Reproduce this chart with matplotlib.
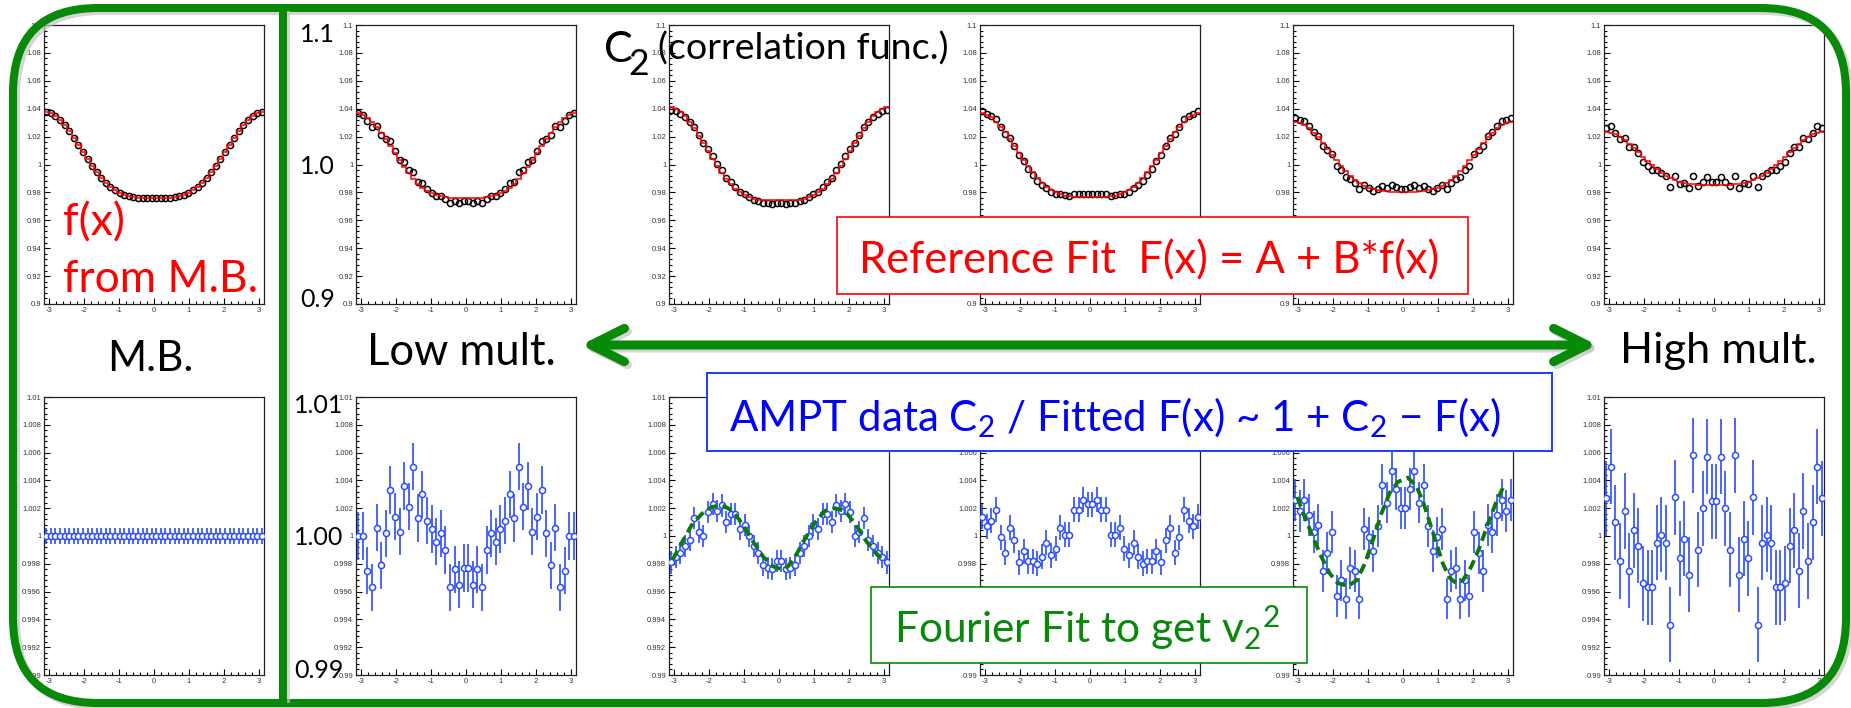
import numpy as np
import matplotlib
matplotlib.use('Agg')
import matplotlib.pyplot as plt
from matplotlib.patches import FancyBboxPatch, Rectangle, FancyArrowPatch
from matplotlib.ticker import MultipleLocator, FormatStrFormatter

plt.rcParams['font.family'] = ['Liberation Sans', 'DejaVu Sans']
plt.rcParams['mathtext.fontset'] = 'custom'
plt.rcParams['mathtext.rm'] = 'Lato'
plt.rcParams['mathtext.it'] = 'Lato'
plt.rcParams['mathtext.default'] = 'regular'
BIG = ['Lato', 'DejaVu Sans']

# ---------------- data (48 delta-phi bins) ----------------
# top row: C2 correlation functions (black points) and reference fits F(x) (red steps)
mb_c2 = [1.0379, 1.0368, 1.0348, 1.0319, 1.0282, 1.0239, 1.0191, 1.0140, 1.0088, 1.0037, 0.9988, 0.9943,
         0.9902, 0.9867, 0.9838, 0.9814, 0.9796, 0.9782, 0.9773, 0.9767, 0.9763, 0.9761, 0.9760, 0.9760,
         0.9760, 0.9760, 0.9761, 0.9763, 0.9767, 0.9773, 0.9782, 0.9796, 0.9814, 0.9838, 0.9867, 0.9902,
         0.9943, 0.9988, 1.0037, 1.0088, 1.0140, 1.0191, 1.0239, 1.0282, 1.0319, 1.0348, 1.0368, 1.0379]

c2_1 = [1.0367, 1.0356, 1.0310, 1.0270, 1.0278, 1.0208, 1.0184, 1.0165, 1.0095, 1.0033, 1.0018, 0.9959,
        0.9947, 0.9876, 0.9865, 0.9822, 0.9798, 0.9776, 0.9773, 0.9755, 0.9725, 0.9736, 0.9724, 0.9736,
        0.9736, 0.9724, 0.9736, 0.9725, 0.9755, 0.9773, 0.9776, 0.9798, 0.9822, 0.9865, 0.9876, 0.9947,
        0.9959, 1.0018, 1.0033, 1.0095, 1.0165, 1.0184, 1.0208, 1.0278, 1.0270, 1.0310, 1.0356, 1.0367]
fit_1 = [1.0367, 1.0356, 1.0336, 1.0308, 1.0272, 1.0229, 1.0182, 1.0132, 1.0081, 1.0030, 0.9982, 0.9938,
         0.9898, 0.9863, 0.9835, 0.9811, 0.9793, 0.9780, 0.9771, 0.9765, 0.9761, 0.9759, 0.9758, 0.9758,
         0.9758, 0.9758, 0.9759, 0.9761, 0.9765, 0.9771, 0.9780, 0.9793, 0.9811, 0.9835, 0.9863, 0.9898,
         0.9938, 0.9982, 1.0030, 1.0081, 1.0132, 1.0182, 1.0229, 1.0272, 1.0308, 1.0336, 1.0356, 1.0367]

c2_2 = [1.0390, 1.0382, 1.0365, 1.0339, 1.0303, 1.0272, 1.0210, 1.0152, 1.0113, 1.0064, 1.0006, 0.9961,
        0.9905, 0.9873, 0.9842, 0.9805, 0.9789, 0.9766, 0.9749, 0.9737, 0.9725, 0.9721, 0.9719, 0.9724,
        0.9724, 0.9719, 0.9721, 0.9725, 0.9737, 0.9749, 0.9766, 0.9789, 0.9805, 0.9842, 0.9873, 0.9905,
        0.9961, 1.0006, 1.0064, 1.0113, 1.0152, 1.0210, 1.0272, 1.0303, 1.0339, 1.0365, 1.0382, 1.0390]
fit_2 = [1.0410, 1.0398, 1.0377, 1.0346, 1.0306, 1.0259, 1.0207, 1.0152, 1.0096, 1.0041, 0.9988, 0.9939,
         0.9895, 0.9857, 0.9826, 0.9800, 0.9781, 0.9766, 0.9756, 0.9749, 0.9745, 0.9743, 0.9742, 0.9742,
         0.9742, 0.9742, 0.9743, 0.9745, 0.9749, 0.9756, 0.9766, 0.9781, 0.9800, 0.9826, 0.9857, 0.9895,
         0.9939, 0.9988, 1.0041, 1.0096, 1.0152, 1.0207, 1.0259, 1.0306, 1.0346, 1.0377, 1.0398, 1.0410]

c2_3 = [1.0382, 1.0363, 1.0348, 1.0328, 1.0271, 1.0219, 1.0190, 1.0131, 1.0065, 1.0023, 0.9968, 0.9925,
        0.9883, 0.9854, 0.9835, 0.9803, 0.9791, 0.9792, 0.9778, 0.9772, 0.9786, 0.9785, 0.9790, 0.9787,
        0.9787, 0.9790, 0.9785, 0.9786, 0.9772, 0.9778, 0.9792, 0.9791, 0.9803, 0.9835, 0.9854, 0.9883,
        0.9925, 0.9968, 1.0023, 1.0065, 1.0131, 1.0190, 1.0219, 1.0271, 1.0328, 1.0348, 1.0363, 1.0382]
fit_3 = [1.0367, 1.0356, 1.0337, 1.0308, 1.0272, 1.0231, 1.0184, 1.0134, 1.0084, 1.0034, 0.9986, 0.9943,
         0.9903, 0.9869, 0.9840, 0.9817, 0.9800, 0.9786, 0.9777, 0.9771, 0.9767, 0.9766, 0.9765, 0.9765,
         0.9765, 0.9765, 0.9766, 0.9767, 0.9771, 0.9777, 0.9786, 0.9800, 0.9817, 0.9840, 0.9869, 0.9903,
         0.9943, 0.9986, 1.0034, 1.0084, 1.0134, 1.0184, 1.0231, 1.0272, 1.0308, 1.0337, 1.0356, 1.0367]

c2_4 = [1.0334, 1.0317, 1.0309, 1.0274, 1.0232, 1.0202, 1.0130, 1.0102, 1.0074, 0.9987, 0.9958, 0.9909,
        0.9898, 0.9867, 0.9825, 0.9854, 0.9834, 0.9812, 0.9823, 0.9847, 0.9832, 0.9852, 0.9838, 0.9825,
        0.9825, 0.9838, 0.9852, 0.9832, 0.9847, 0.9823, 0.9812, 0.9834, 0.9854, 0.9825, 0.9867, 0.9898,
        0.9909, 0.9958, 0.9987, 1.0074, 1.0102, 1.0130, 1.0202, 1.0232, 1.0274, 1.0309, 1.0317, 1.0334]
fit_4 = [1.0307, 1.0298, 1.0282, 1.0259, 1.0229, 1.0194, 1.0155, 1.0114, 1.0071, 1.0030, 0.9990, 0.9954,
         0.9921, 0.9892, 0.9869, 0.9849, 0.9835, 0.9823, 0.9816, 0.9811, 0.9808, 0.9806, 0.9805, 0.9805,
         0.9805, 0.9805, 0.9806, 0.9808, 0.9811, 0.9816, 0.9823, 0.9835, 0.9849, 0.9869, 0.9892, 0.9921,
         0.9954, 0.9990, 1.0030, 1.0071, 1.0114, 1.0155, 1.0194, 1.0229, 1.0259, 1.0282, 1.0298, 1.0307]

c2_5 = [1.0263, 1.0279, 1.0226, 1.0180, 1.0193, 1.0124, 1.0123, 1.0080, 1.0021, 0.9987, 0.9957, 0.9961,
        0.9942, 0.9915, 0.9838, 0.9914, 0.9859, 0.9865, 0.9833, 0.9914, 0.9845, 0.9874, 0.9909, 0.9878,
        0.9878, 0.9909, 0.9874, 0.9845, 0.9914, 0.9833, 0.9865, 0.9859, 0.9914, 0.9838, 0.9915, 0.9942,
        0.9961, 0.9957, 0.9987, 1.0021, 1.0080, 1.0123, 1.0124, 1.0193, 1.0180, 1.0226, 1.0279, 1.0263]
fit_5 = [1.0235, 1.0228, 1.0216, 1.0198, 1.0175, 1.0149, 1.0119, 1.0087, 1.0055, 1.0024, 0.9994, 0.9966,
         0.9941, 0.9920, 0.9901, 0.9886, 0.9875, 0.9867, 0.9861, 0.9857, 0.9855, 0.9854, 0.9853, 0.9853,
         0.9853, 0.9853, 0.9854, 0.9855, 0.9857, 0.9861, 0.9867, 0.9875, 0.9886, 0.9901, 0.9920, 0.9941,
         0.9966, 0.9994, 1.0024, 1.0055, 1.0087, 1.0119, 1.0149, 1.0175, 1.0198, 1.0216, 1.0228, 1.0235]

# bottom row: C2 / F(x) ratios (blue points with error bars)
mb_ratio = [1.0] * 48
r_1 = [1.0000, 1.0000, 0.9975, 0.9963, 1.0006, 0.9979, 1.0002, 1.0033, 1.0014, 1.0003, 1.0036, 1.0021,
       1.0050, 1.0013, 1.0030, 1.0011, 1.0005, 0.9996, 1.0002, 0.9990, 0.9963, 0.9976, 0.9965, 0.9977,
       0.9977, 0.9965, 0.9976, 0.9963, 0.9990, 1.0002, 0.9996, 1.0005, 1.0011, 1.0030, 1.0013, 1.0050,
       1.0021, 1.0036, 1.0003, 1.0014, 1.0033, 1.0002, 0.9979, 1.0006, 0.9963, 0.9975, 1.0000, 1.0000]
r_2 = [0.9981, 0.9985, 0.9988, 0.9993, 0.9997, 1.0013, 1.0003, 1.0000, 1.0017, 1.0023, 1.0018, 1.0022,
       1.0010, 1.0016, 1.0016, 1.0005, 1.0008, 1.0000, 0.9993, 0.9988, 0.9979, 0.9977, 0.9976, 0.9982,
       0.9982, 0.9976, 0.9977, 0.9979, 0.9988, 0.9993, 1.0000, 1.0008, 1.0005, 1.0016, 1.0016, 1.0010,
       1.0022, 1.0018, 1.0023, 1.0017, 1.0000, 1.0003, 1.0013, 0.9997, 0.9993, 0.9988, 0.9985, 0.9981]
r_3 = [1.0014, 1.0007, 1.0011, 1.0019, 0.9999, 0.9988, 1.0006, 0.9997, 0.9981, 0.9989, 0.9982, 0.9982,
       0.9980, 0.9985, 0.9995, 0.9986, 0.9991, 1.0006, 1.0001, 1.0001, 1.0019, 1.0019, 1.0026, 1.0023,
       1.0023, 1.0026, 1.0019, 1.0019, 1.0001, 1.0001, 1.0006, 0.9991, 0.9986, 0.9995, 0.9985, 0.9980,
       0.9982, 0.9982, 0.9989, 0.9981, 0.9997, 1.0006, 0.9988, 0.9999, 1.0019, 1.0011, 1.0007, 1.0014]
r_4 = [1.0026, 1.0018, 1.0026, 1.0015, 1.0003, 1.0008, 0.9975, 0.9988, 1.0003, 0.9957, 0.9968, 0.9955,
       0.9977, 0.9975, 0.9955, 1.0005, 0.9999, 0.9989, 1.0007, 1.0037, 1.0024, 1.0047, 1.0034, 1.0020,
       1.0020, 1.0034, 1.0047, 1.0024, 1.0037, 1.0007, 0.9989, 0.9999, 1.0005, 0.9955, 0.9975, 0.9977,
       0.9955, 0.9968, 0.9957, 1.0003, 0.9988, 0.9975, 1.0008, 1.0003, 1.0015, 1.0026, 1.0018, 1.0026]
r_5 = [1.0027, 1.0050, 1.0010, 0.9982, 1.0018, 0.9975, 1.0004, 0.9993, 0.9966, 0.9963, 0.9963, 0.9995,
       1.0001, 0.9995, 0.9936, 1.0028, 0.9984, 0.9998, 0.9972, 1.0058, 0.9990, 1.0020, 1.0057, 1.0025,
       1.0025, 1.0057, 1.0020, 0.9990, 1.0058, 0.9972, 0.9998, 0.9984, 1.0028, 0.9936, 0.9995, 1.0001,
       0.9995, 0.9963, 0.9963, 0.9966, 0.9993, 1.0004, 0.9975, 1.0018, 0.9982, 1.0010, 1.0050, 1.0027]
ratio_err = [0.0006, 0.0017, 0.0008, 0.0009, 0.0015, 0.0027]

# Fourier fits (green dashed) in the 3rd and 5th bottom panels
four_x_2 = [-3.04, -2.78, -2.49, -2.20, -1.91, -1.61, -1.32, -1.03, -0.74, -0.45, -0.16, 0.08,
            0.25, 0.48, 0.72, 1.01, 1.30, 1.59, 1.88, 2.17, 2.47, 2.76, 2.99]
four_y_2 = [0.9983, 0.9995, 1.0008, 1.0016, 1.0021, 1.0022, 1.0018, 1.0008, 0.9996, 0.9985, 0.9978, 0.9976,
            0.9978, 0.9986, 0.9997, 1.0009, 1.0018, 1.0020, 1.0018, 1.0009, 0.9997, 0.9988, 0.9982]
four_x_4 = [-3.02, -2.81, -2.57, -2.33, -2.09, -1.86, -1.57, -1.33, -1.09, -0.86, -0.62, -0.38, -0.14,
            0.14, 0.38, 0.57, 0.76, 0.95, 1.14, 1.33, 1.52, 1.71, 1.95, 2.19, 2.43, 2.67, 2.90]
four_y_4 = [1.0028, 1.0014, 0.9999, 0.9985, 0.9973, 0.9966, 0.9964, 0.9968, 0.9980, 0.9997, 1.0016, 1.0031,
            1.0039, 1.0042, 1.0036, 1.0025, 1.0010, 0.9995, 0.9980, 0.9970, 0.9966, 0.9968, 0.9978, 0.9992,
            1.0009, 1.0025, 1.0037]

top_data = [mb_c2, c2_1, c2_2, c2_3, c2_4, c2_5]
top_fit = [mb_c2, fit_1, fit_2, fit_3, fit_4, fit_5]
bot_data = [mb_ratio, r_1, r_2, r_3, r_4, r_5]
fourier = {2: (four_x_2, four_y_2), 4: (four_x_4, four_y_4)}

# ---------------- layout (pixels of the 1851x708 picture) ----------------
W, H = 1851, 708
panel_x = [44, 356, 669, 980, 1293, 1604]
panel_w = 220
top_y = (25, 304)
bot_y = (397, 675)
# white boxes drawn over the panels: (x0, y0, x1, y1)
red_box = (837, 217, 1468, 294)
blue_box = (707, 373, 1552, 451)
green_box = (871, 587, 1307, 663)

GREEN = '#078a07'
DGREEN = '#0b7a0b'
BLUE = '#2b4cff'
SHADOW = '#c4c4c4'

edges = np.linspace(-np.pi, np.pi, 49)
centers = (edges[:-1] + edges[1:]) / 2

fig = plt.figure(figsize=(W / 100, H / 100), dpi=100)


def px_axes(x0, y0, x1, y1):
    return fig.add_axes([x0 / W, 1 - y1 / H, (x1 - x0) / W, (y1 - y0) / H])


def root_style(ax, lo, hi, major):
    ax.set_xlim(-np.pi, np.pi)
    ax.set_ylim(lo, hi)
    ax.xaxis.set_major_locator(MultipleLocator(1))
    ax.xaxis.set_minor_locator(MultipleLocator(0.2))
    ax.yaxis.set_major_locator(MultipleLocator(major))
    ax.yaxis.set_minor_locator(MultipleLocator(major / 5))
    ax.xaxis.set_major_formatter(FormatStrFormatter('%g'))
    ax.yaxis.set_major_formatter(FormatStrFormatter('%g'))
    ax.tick_params(which='both', direction='in', top=False, right=False, width=0.8,
                   labelsize=5.5, labelcolor='#333333', pad=2)
    ax.tick_params(which='major', length=4)
    ax.tick_params(which='minor', length=2)
    for sp in ax.spines.values():
        sp.set_linewidth(0.9)
        sp.set_color('#222222')


panels = []
for i in range(6):
    x0 = panel_x[i]
    ax = px_axes(x0, top_y[0], x0 + panel_w, top_y[1])
    root_style(ax, 0.9, 1.1, 0.02)
    ax.plot(centers, top_data[i], 'o', mfc='none', mec='black', ms=4.4, mew=1.1)
    ax.stairs(top_fit[i], edges, baseline=None, color='red', lw=1.1, zorder=3)
    panels.append(ax)

    ax = px_axes(x0, bot_y[0], x0 + panel_w, bot_y[1])
    root_style(ax, 0.99, 1.01, 0.002)
    ax.errorbar(centers, bot_data[i], yerr=ratio_err[i], fmt='none', ecolor=BLUE, elinewidth=1.2, capsize=0)
    ax.plot(centers, bot_data[i], 'o', mfc='white', mec=BLUE, ms=4.4, mew=1.1, zorder=3)
    if i in fourier:
        fx, fy = fourier[i]
        ax.plot(fx, fy, '--', color=DGREEN, lw=2.8, dashes=(2.6, 1.4), zorder=4)
    panels.append(ax)

# ---------------- overlay: frame, arrow, boxes and texts ----------------
ov = fig.add_axes([0, 0, 1, 1], zorder=10)
ov.set_xlim(0, W)
ov.set_ylim(H, 0)
ov.axis('off')

# soft shadows under the green shapes
ov.add_patch(FancyBboxPatch((16, 11), 1846 - 13, 703 - 8, boxstyle='round,pad=0,rounding_size=85',
                            fill=False, ec=SHADOW, lw=5.8, alpha=0.7))
ov.plot([286, 286], [11, 703], color=SHADOW, lw=5.8, alpha=0.7, solid_capstyle='butt')
ov.add_patch(FancyArrowPatch((584, 348), (1600, 348), arrowstyle='<->,head_length=24,head_width=12',
                             mutation_scale=1, lw=6.5, color=SHADOW, alpha=0.7, shrinkA=0, shrinkB=0,
                             capstyle='round', joinstyle='round'))

ov.add_patch(FancyBboxPatch((13, 8), 1846 - 13, 703 - 8, boxstyle='round,pad=0,rounding_size=85',
                            fill=False, ec=GREEN, lw=5.8))
ov.plot([283, 283], [8, 703], color=GREEN, lw=5.8, solid_capstyle='butt')
ov.add_patch(FancyArrowPatch((581, 345), (1597, 345), arrowstyle='<->,head_length=24,head_width=12',
                             mutation_scale=1, lw=6.5, color=GREEN, shrinkA=0, shrinkB=0,
                             capstyle='round', joinstyle='round'))

for (bx0, by0, bx1, by1), ec, lw in [(red_box, 'red', 1.2), (blue_box, '#1a3cff', 1.4), (green_box, GREEN, 1.2)]:
    ov.add_patch(Rectangle((bx0, by0), bx1 - bx0, by1 - by0, fc='white', ec=ec, lw=lw))

fitted = []


def label(x0, x1, base, s, color='black', size=24):
    t = ov.text(x0, base, s, color=color, fontsize=size, family=BIG, ha='left', va='baseline')
    fitted.append((t, x1 - x0))
    return t


label(63, 125, 235, 'f(x)', 'red')
label(63, 258, 292, 'from M.B.', 'red')
label(107, 193, 371, 'M.B.')
label(367, 556, 365, 'Low mult.')
label(1620, 1817, 363, 'High mult.')
corr = label(658, 948, 60, '(correlation func.)')
label(859, 1440, 273, 'Reference Fit  F(x) = A + B*f(x)', 'red')
label(729, 1503, 431, 'AMPT data C$_2$ / Fitted F(x) ~ 1 + C$_2$ \u2212 F(x)', 'blue')
label(894, 1281, 643, 'Fourier Fit to get v$_2{}^2$', GREEN)

c_big = ov.text(604, 62, 'C', fontsize=24, family=BIG, va='baseline')
c_sub = ov.text(628, 75, '2', fontsize=24, family=BIG, va='baseline')

for s, y in [('1.1', 42), ('1.0', 174), ('0.9', 307)]:
    ov.text(300, y, s, fontsize=18, family=BIG, va='baseline')
for s, y in [('1.01', 413), ('1.00', 545), ('0.99', 678)]:
    ov.text(294, y, s, fontsize=18, family=BIG, va='baseline')

fig.canvas.draw()
renderer = fig.canvas.get_renderer()
for t, w in fitted:
    bb = t.get_window_extent(renderer)
    t.set_fontsize(t.get_fontsize() * w / bb.width)

# the big C of "C2" is a bit larger than the bracketed words, its subscript almost as large
c_big.set_fontsize(corr.get_fontsize() * 1.15)
c_sub.set_fontsize(corr.get_fontsize() * 0.95)

# tick labels that sit under the white boxes are hidden, as in the slide
for ax in panels:
    for lab in ax.get_xticklabels() + ax.get_yticklabels():
        bb = lab.get_window_extent(renderer)
        cx, cy = (bb.x0 + bb.x1) / 2, H - (bb.y0 + bb.y1) / 2
        for bx0, by0, bx1, by1 in (red_box, blue_box, green_box):
            if bx0 < cx < bx1 and by0 < cy < by1:
                lab.set_visible(False)

fig.savefig('out.png', dpi=100)
